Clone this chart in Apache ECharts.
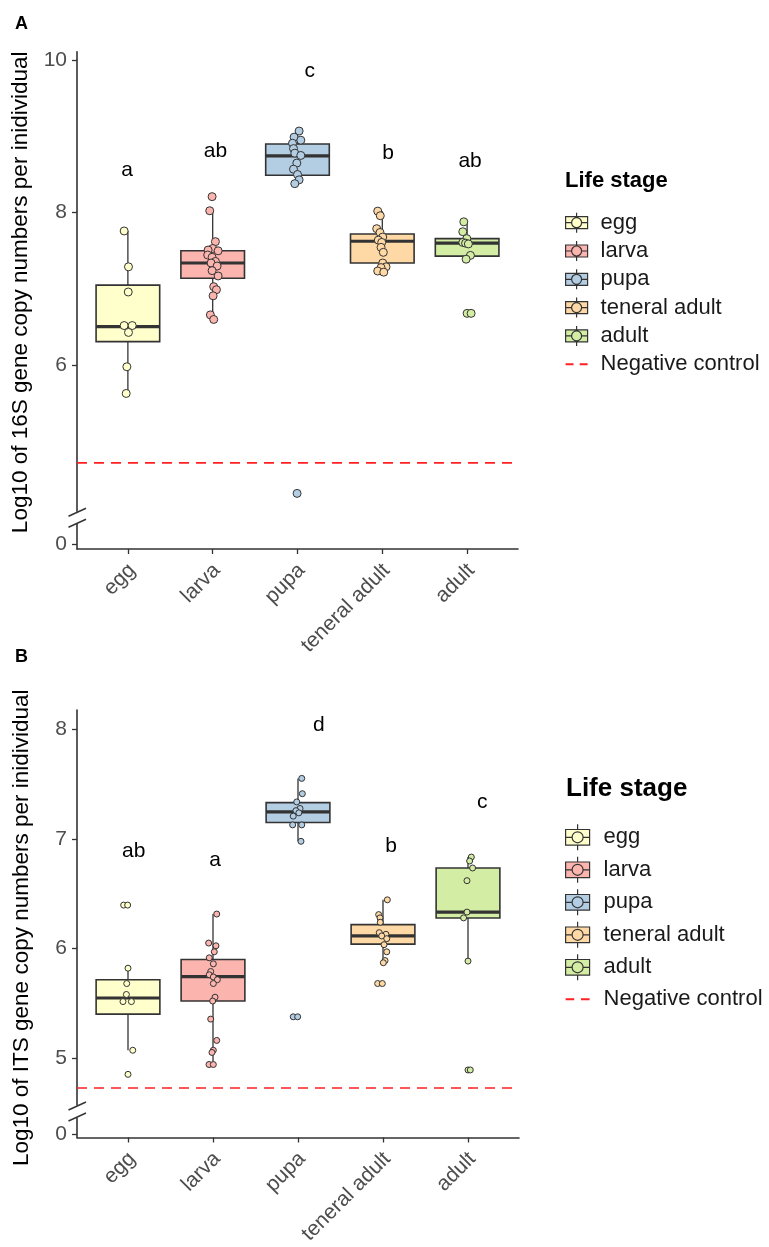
<!DOCTYPE html>
<html><head><meta charset="utf-8">
<script src="https://cdn.jsdelivr.net/npm/echarts@6/dist/echarts.min.js"></script>
<style>html,body{margin:0;padding:0;background:#fff}#c{width:769px;height:1247px}</style>
</head><body><div id="c"></div>
<script>
// ---------------- DATA ----------------
const stages = ['egg', 'larva', 'pupa', 'teneral adult', 'adult'];
const stageColors = ['#FFFFCC', '#FBB4AE', '#B3CDE3', '#FED9A6', '#D4EDA4'];

// Panel A (16S): points as [jitter in category units, log10 copies]
const pts16S_egg = [[-0.044,7.76],[0.007,7.29],[0.004,6.96],[-0.044,6.52],[0.051,6.52],[0.007,6.43],[-0.012,5.98],[-0.02,5.63]];
const pts16S_larva = [[-0.007,8.21],[-0.035,8.025],[0.032,7.62],[0,7.53],[-0.054,7.51],[0.064,7.50],[-0.059,7.445],[-0.007,7.415],[0.032,7.36],[-0.019,7.34],[0.052,7.30],[-0.007,7.24],[0.064,7.17],[0.012,7.03],[0.044,6.99],[0.005,6.91],[-0.027,6.66],[0.012,6.60]];
const pts16S_pupa = [[0.019,9.07],[-0.04,8.99],[0.039,8.95],[-0.059,8.91],[-0.047,8.84],[-0.032,8.78],[0.039,8.75],[-0.008,8.65],[-0.047,8.57],[0,8.50],[0.019,8.43],[-0.032,8.38],[-0.005,4.32]];
const pts16S_teneral = [[-0.054,8.02],[-0.024,7.96],[-0.066,7.79],[-0.027,7.74],[0.005,7.68],[-0.047,7.64],[-0.007,7.61],[-0.015,7.545],[0.012,7.48],[0.005,7.34],[0.044,7.29],[-0.015,7.28],[-0.054,7.235],[0.017,7.22]];
const pts16S_adult = [[-0.039,7.88],[-0.051,7.75],[-0.004,7.66],[-0.051,7.61],[-0.018,7.60],[0.015,7.59],[0.039,7.44],[-0.012,7.39],[0,6.68],[0.047,6.68]];
// box stats: [lower whisker, Q1, median, Q3, upper whisker]
const box16S = [[5.63,6.31,6.505,7.05,7.76],[6.60,7.14,7.34,7.50,8.03],[8.38,8.49,8.745,8.90,9.07],[7.22,7.34,7.625,7.72,8.02],[7.39,7.43,7.60,7.66,7.88]];
const letters16S = ['a','ab','c','b','ab'];
const letterY16S = [8.56, 8.80, 9.86, 8.785, 8.67];
const letterDx16S = [-0.008, 0.032, 0.145, 0.067, 0.035];
const negControl16S = 4.72;
const yTicks16S = [6, 8, 10];

// Panel B (ITS)
const ptsITS_egg = [[-0.051,6.397],[-0.004,6.397],[0,5.82],[-0.015,5.68],[-0.019,5.58],[-0.059,5.515],[0.04,5.515],[0.056,5.07],[0,4.85]];
const ptsITS_larva = [[0.044,6.315],[-0.051,6.05],[0.035,6.025],[0.015,5.97],[-0.044,5.915],[0.004,5.86],[-0.027,5.79],[-0.044,5.76],[0.004,5.74],[0.051,5.715],[0.004,5.68],[0.024,5.555],[-0.004,5.52],[-0.027,5.355],[0.044,5.16],[0.004,5.07],[-0.012,5.05],[-0.047,4.94],[0.004,4.94]];
const ptsITS_pupa = [[0.044,7.555],[0.051,7.415],[-0.015,7.34],[0.024,7.28],[-0.024,7.26],[0.01,7.24],[-0.056,7.21],[-0.063,7.13],[0.044,7.13],[0.035,6.98],[-0.056,5.376],[-0.004,5.376]];
const ptsITS_teneral = [[0.051,6.445],[-0.051,6.31],[-0.035,6.28],[-0.032,6.24],[-0.044,6.145],[0.035,6.13],[-0.015,6.115],[0.044,6.09],[0.012,6.035],[0.044,5.97],[0.024,5.89],[0.004,5.87],[-0.063,5.68],[-0.008,5.68]];
const ptsITS_adult = [[0.039,6.836],[0.019,6.80],[0.054,6.736],[-0.012,6.62],[-0.012,6.333],[-0.052,6.28],[0,5.885],[0,4.89],[0.027,4.89]];
const boxITS = [[5.07,5.40,5.548,5.715,5.82],[4.94,5.52,5.743,5.90,6.315],[6.98,7.152,7.249,7.333,7.555],[5.87,6.04,6.115,6.218,6.445],[5.885,6.279,6.333,6.736,6.836]];
const lettersITS = ['ab','a','d','b','c'];
const letterYITS = [6.885, 6.81, 8.045, 6.936, 7.336];
const letterDxITS = [0.067, 0.024, 0.245, 0.095, 0.169];
const negControlITS = 4.725;
const yTicksITS = [5, 6, 7, 8];

// axis display ranges (upper segment of broken axis; "0" drawn at zero* below the break)
const yRange16S = [3.591, 10.11], zero16S = 3.653, break16S = 4.0;
const yRangeITS = [4.273, 8.18], zeroITS = 4.306, breakITS = 4.51;

const yTitle16S = 'Log10 of 16S gene copy numbers per inidividual';
const yTitleITS = 'Log10 of ITS gene copy numbers per inidividual';
const legendTitle = 'Life stage';
const negLabel = 'Negative control';

// ---------------- CHART ----------------
const FONT = 'Liberation Sans, Arial, sans-serif';
const DARK = '#333333';
const chart = echarts.init(document.getElementById('c'), null, {renderer: 'canvas'});

const pts16S = [pts16S_egg, pts16S_larva, pts16S_pupa, pts16S_teneral, pts16S_adult];
const ptsITS = [ptsITS_egg, ptsITS_larva, ptsITS_pupa, ptsITS_teneral, ptsITS_adult];
const BOX_W = 0.75;

function boxRenderer(color) {
  return function (params, api) {
    const x = api.value(0);
    const pLo = api.coord([x, api.value(1)]);
    const pQ1 = api.coord([x, api.value(2)]);
    const pMed = api.coord([x, api.value(3)]);
    const pQ3 = api.coord([x, api.value(4)]);
    const pHi = api.coord([x, api.value(5)]);
    const w = api.size([BOX_W, 0])[0];
    return {
      type: 'group',
      children: [
        {type: 'line', shape: {x1: pQ3[0], y1: pQ3[1], x2: pHi[0], y2: pHi[1]}, style: {stroke: DARK, lineWidth: 1.3}},
        {type: 'line', shape: {x1: pQ1[0], y1: pQ1[1], x2: pLo[0], y2: pLo[1]}, style: {stroke: DARK, lineWidth: 1.3}},
        {type: 'rect', shape: {x: pQ3[0] - w / 2, y: pQ3[1], width: w, height: pQ1[1] - pQ3[1]}, style: {fill: color, stroke: DARK, lineWidth: 1.6}},
        {type: 'line', shape: {x1: pMed[0] - w / 2, y1: pMed[1], x2: pMed[0] + w / 2, y2: pMed[1]}, style: {stroke: DARK, lineWidth: 3.2}}
      ]
    };
  };
}

function letterRenderer(letters, size) {
  return function (params, api) {
    const p = api.coord([api.value(0), api.value(1)]);
    return {type: 'text', x: p[0], y: p[1],
      style: {text: letters[params.dataIndex], fill: '#000', fontSize: size, fontFamily: FONT, align: 'center', verticalAlign: 'middle'}};
  };
}

function panelSeries(gi, pts, box, letters, letterY, letterDx, neg, symSize) {
  const s = [];
  stages.forEach((name, i) => {
    s.push({
      type: 'custom', name: name, xAxisIndex: gi, yAxisIndex: gi, z: 2,
      renderItem: boxRenderer(stageColors[i]),
      itemStyle: {color: stageColors[i]},
      encode: {x: 0, y: [1, 2, 3, 4, 5]},
      data: [[i].concat(box[i])], silent: true
    });
  });
  stages.forEach((name, i) => {
    s.push({
      type: 'scatter', name: name, xAxisIndex: gi, yAxisIndex: gi, z: 3,
      symbol: 'circle', symbolSize: symSize,
      itemStyle: {color: stageColors[i], borderColor: DARK, borderWidth: 1, opacity: 1},
      data: pts[i].map(p => [i + p[0], p[1]]), silent: true
    });
  });
  s.push({
    type: 'line', name: negLabel, xAxisIndex: gi, yAxisIndex: gi, z: 1,
    showSymbol: false, symbol: 'none', silent: true,
    lineStyle: {color: '#FF2020', width: 1.6, type: [10, 7]},
    itemStyle: {color: '#FF2020'},
    data: [[-0.6, neg], [4.6, neg]]
  });
  s.push({
    type: 'custom', xAxisIndex: gi, yAxisIndex: gi, z: 4, silent: true,
    renderItem: letterRenderer(letters, 21),
    encode: {x: 0, y: 1},
    data: letters.map((l, i) => [i + letterDx[i], letterY[i]])
  });
  return s;
}

function xAxisDef(gi) {
  return {
    type: 'value', gridIndex: gi, min: -0.6, max: 4.6,
    splitLine: {show: false},
    axisLine: {show: true, onZero: false, lineStyle: {color: DARK, width: 1.6}},
    axisTick: {show: true, length: 5, customValues: [0, 1, 2, 3, 4], lineStyle: {color: DARK, width: 1.3}},
    axisLabel: {show: true, customValues: [0, 1, 2, 3, 4], rotate: 45, margin: 14, verticalAlign: 'top', lineHeight: 12,
      formatter: v => stages[Math.round(v)], fontSize: 21, color: '#4D4D4D', fontFamily: FONT}
  };
}
function yAxisDef(gi, range, zero, ticks, title, pad) {
  const vals = [zero].concat(ticks);
  return {
    type: 'value', gridIndex: gi, min: range[0], max: range[1],
    splitLine: {show: false},
    axisLine: {show: true, onZero: false, lineStyle: {color: DARK, width: 1.6}},
    axisTick: {show: true, length: 5, customValues: vals, lineStyle: {color: DARK, width: 1.3}},
    axisLabel: {show: true, customValues: vals, margin: 10,
      formatter: v => (Math.abs(v - zero) < 1e-6 ? '0' : String(Math.round(v))),
      fontSize: 21, color: '#4D4D4D', fontFamily: FONT},
    name: title, nameLocation: 'middle', nameGap: 44,
    nameTextStyle: {fontSize: 22.5, color: '#000', fontFamily: FONT, padding: pad}
  };
}

function legendDef(top, w, h, gap, pad) {
  const cx = w / 2, r = w > 23 ? 5.5 : 5;
  const by0 = h * 0.2, by1 = h * 0.8, my = h / 2;
  const boxIcon = 'path://M0 ' + by0 + 'H' + w + 'V' + by1 + 'H0Z' +
    ' M0 ' + my + 'H' + (cx - r) + ' M' + (cx + r) + ' ' + my + 'H' + w +
    ' M' + cx + ' 0V' + by0 + ' M' + cx + ' ' + by1 + 'V' + h +
    ' M' + (cx + r) + ' ' + my + 'A' + r + ' ' + r + ' 0 1 1 ' + (cx - r) + ' ' + my +
    'A' + r + ' ' + r + ' 0 1 1 ' + (cx + r) + ' ' + my + 'Z';
  const d = w * 0.36;
  const lineIcon = 'path://M0 0M' + w + ' ' + h + 'M0 ' + (my - 1) + 'H' + d + 'V' + (my + 1) + 'H0Z M' + (w - d) + ' ' + (my - 1) + 'H' + w + 'V' + (my + 1) + 'H' + (w - d) + 'Z';
  const data = stages.map((n, i) => ({name: n, icon: boxIcon,
    itemStyle: {color: stageColors[i], borderColor: DARK, borderWidth: 1.2}}));
  data.push({name: negLabel, icon: lineIcon, itemStyle: {color: '#FF2020', borderWidth: 0}});
  return {
    orient: 'vertical', left: 565, top: top, padding: 0,
    itemWidth: w, itemHeight: h, itemGap: gap, selectedMode: false,
    textStyle: {fontSize: 22, color: '#1A1A1A', fontFamily: FONT, lineHeight: h, padding: [0, 0, 0, pad]},
    data: data
  };
}

const option = {
  animation: false,
  backgroundColor: '#fff',
  title: [
    {text: 'A', left: 15, top: 15, padding: 0, textStyle: {fontSize: 18, fontWeight: 'bold', color: '#000', fontFamily: FONT}},
    {text: 'B', left: 15, top: 648, padding: 0, textStyle: {fontSize: 18, fontWeight: 'bold', color: '#000', fontFamily: FONT}},
    {text: legendTitle, left: 565, top: 170, padding: 0, textStyle: {fontSize: 22, fontWeight: 'bold', color: '#000', fontFamily: FONT}},
    {text: legendTitle, left: 566, top: 776, padding: 0, textStyle: {fontSize: 26, fontWeight: 'bold', color: '#000', fontFamily: FONT}}
  ],
  legend: [legendDef(211.7, 22, 20, 6.3, 8), legendDef(823.7, 24, 26, 5.3, 9)],
  grid: [
    {left: 77, right: 251, top: 51.7, bottom: 1247 - 549, containLabel: false},
    {left: 77, right: 250, top: 710, bottom: 1247 - 1140, containLabel: false}
  ],
  xAxis: [xAxisDef(0), xAxisDef(1)],
  yAxis: [
    yAxisDef(0, yRange16S, zero16S, yTicks16S, yTitle16S, [0, 0, 0, 16]),
    yAxisDef(1, yRangeITS, zeroITS, yTicksITS, yTitleITS, [0, 8, 0, 0])
  ],
  series: [].concat(
    panelSeries(0, pts16S, box16S, letters16S, letterY16S, letterDx16S, negControl16S, 8),
    panelSeries(1, ptsITS, boxITS, lettersITS, letterYITS, letterDxITS, negControlITS, 6)
  )
};
chart.setOption(option);

// axis-break marks on the y axes
function breakMarks(gi, val) {
  const p = chart.convertToPixel({gridIndex: gi}, [-0.6, val]);
  const x = p[0], c = p[1];
  return [
    {type: 'rect', shape: {x: x - 3, y: c - 6, width: 6, height: 12}, style: {fill: '#fff'}, z: 100, silent: true},
    {type: 'line', shape: {x1: x - 8.5, y1: c - 1.5, x2: x + 9, y2: c - 9.5}, style: {stroke: DARK, lineWidth: 1.5}, z: 101, silent: true},
    {type: 'line', shape: {x1: x - 8.5, y1: c + 9.5, x2: x + 9, y2: c + 1.5}, style: {stroke: DARK, lineWidth: 1.5}, z: 101, silent: true}
  ];
}
chart.setOption({graphic: breakMarks(0, break16S).concat(breakMarks(1, breakITS))});
</script></body></html>
